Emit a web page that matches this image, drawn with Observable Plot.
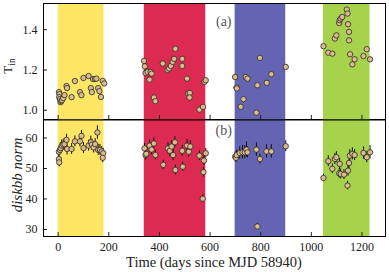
<!DOCTYPE html>
<html><head><meta charset="utf-8">
<script src="https://cdn.jsdelivr.net/npm/d3@7"></script>
<script src="https://cdn.jsdelivr.net/npm/@observablehq/plot@0.6"></script>
<style>
body{margin:0;background:#fff}
#c{position:relative;width:389px;height:272px}
#c svg{position:absolute;left:0;overflow:visible}
</style></head><body><div id="c"></div>
<script>
// shaded epochs
const bandStart=[0,340,699,1048];
const bandEnd=[181,583,899,1232];
const bandColor=["#fde664","#dd2a50","#6464b2","#a6d24c"];

// panel (a): inner disk temperature
const tDays=[3,5,4,7,9,12,15,20,25,33,35,53,66,86,92,100,120,129,133,138,146,151,158,163,169,176,182,
 339,342,345,353,361,365,369,378,384,413,432,438,445,452,458,463,490,490,509,514,520,519,558,572,578,583,
 699,704,706,721,732,741,748,783,787,797,824,842,899,
 1048,1067,1083,1093,1099,1110,1112,1116,1122,1140,1143,1145,1149,1149,1153,1162,1171,1206,1219,1232];
const tVals=[1.09,1.08,1.065,1.055,1.04,1.045,1.05,1.06,1.075,1.12,1.11,1.065,1.145,1.09,1.075,1.16,1.17,1.11,1.09,1.155,1.155,1.157,1.11,1.095,1.066,1.146,1.133,
 1.245,1.218,1.185,1.19,1.152,1.19,1.182,1.063,1.045,1.232,1.20,1.207,1.22,1.24,1.255,1.305,1.255,1.22,1.157,1.083,1.086,1.063,1.003,1.017,1.141,1.149,
 1.165,1.113,1.108,1.017,1.055,1.165,1.157,0.988,1.124,1.26,1.136,1.179,1.215,
 1.318,1.286,1.281,1.356,1.372,1.433,1.447,1.455,1.463,1.50,1.48,1.427,1.389,1.347,1.278,1.228,1.253,1.269,1.303,1.253];

// panel (b): diskbb normalisation with errors
const nDays=[3,4,3,7,10,14,20,25,33,35,53,66,86,92,100,120,129,133,140,146,155,158,165,172,178,176,
 341,345,348,361,369,378,384,415,434,441,448,454,461,463,490,492,509,516,522,558,576,583,574,571,
 699,702,705,717,728,737,744,748,783,787,797,823,842,899,
 1048,1067,1083,1093,1099,1110,1112,1116,1129,1143,1145,1149,1152,1162,1171,1206,1219,1232];
const nVals=[53.1,52.0,55.5,56.1,56.7,57.5,57.8,58.0,59.4,56.4,56.4,58.9,58.9,60.7,56.7,57.5,58.6,57.8,56.9,58.0,61.8,56.1,56.1,55.6,55.0,53.5,
 56.6,54.4,54.8,57.5,56.2,58.2,54.4,51.2,56.6,55.8,57.2,54.4,58.6,49.5,55.8,50.6,57.5,55.5,57.2,54.2,52.6,55.0,48.8,40.1,
 53.9,53.5,54.4,55.1,55.3,55.3,56.2,55.3,56.2,31.0,53.1,55.6,55.6,57.3,
 46.9,52.4,49.9,53.1,53.7,48.4,51.5,48.2,48.0,44.4,49.3,51.8,54.2,54.8,54.4,55.1,53.7,55.3];
const nErr=[1.5,1.5,1.6,1.6,1.8,1.8,1.8,1.8,1.8,2.0,1.8,1.8,1.8,1.8,1.8,1.8,2.0,1.8,1.8,1.8,2.2,1.8,1.8,1.6,1.6,1.6,
 1.6,1.6,1.6,1.8,1.8,1.8,1.6,1.5,1.8,1.8,1.8,1.8,1.8,1.6,1.8,1.5,2.0,1.8,2.0,1.6,1.6,1.6,1.6,1.2,
 1.5,1.5,1.6,2.0,2.2,2.2,2.5,1.8,2.2,1.0,1.6,2.2,2.2,1.8,
 1.2,1.8,1.6,1.8,1.8,1.6,1.8,1.6,1.6,1.4,1.8,1.8,2.0,2.0,1.8,2.0,1.8,2.2];

const xTicks=[0,200,400,600,800,1000,1200];
const tTicks=[1.0,1.2,1.4];
const nTicks=[30,40,50,60];

const bands=bandStart.map((s,i)=>({x1:s,x2:bandEnd[i],c:bandColor[i]}));
const tData=tDays.map((d,i)=>({day:d,v:tVals[i]}));
const nData=nDays.map((d,i)=>({day:d,v:nVals[i],e:nErr[i]}));

const FONT="Liberation Serif";
const dotStyle={r:2.7,fill:"#dcba8c",stroke:"#2a2a2a",strokeWidth:0.8};
const xDomain=[-58,1293];

const topPlot=Plot.plot({
  width:389,height:120,marginTop:3,marginBottom:1,marginLeft:43,marginRight:4,
  style:{fontFamily:FONT,fontSize:"12px",background:"transparent",color:"#222"},
  x:{domain:xDomain},
  y:{domain:[0.954,1.53]},
  marks:[
    Plot.rect(bands,{x1:"x1",x2:"x2",fill:d=>d.c}),
    Plot.dot(tData,{x:"day",y:"v",...dotStyle}),
    Plot.axisX({ticks:xTicks,tickSize:-4,tickFormat:()=>"",label:null}),
    Plot.axisY({ticks:tTicks,tickSize:-4,tickPadding:10,tickFormat:d3.format(".1f"),label:null,fontSize:12}),
    Plot.text(["(a)"],{x:654,y:1.44,text:d=>d,fontSize:14,fill:"#555"}),
    Plot.frame({stroke:"black",strokeWidth:1})
  ]
});
topPlot.style.top="0px";

const botPlot=Plot.plot({
  width:389,height:153,marginTop:0.5,marginBottom:36,marginLeft:43,marginRight:4,
  style:{fontFamily:FONT,fontSize:"12px",background:"transparent",color:"#222"},
  x:{domain:xDomain},
  y:{domain:[27.7,65.9]},
  marks:[
    Plot.rect(bands,{x1:"x1",x2:"x2",fill:d=>d.c}),
    Plot.ruleX(nData,{x:"day",y1:d=>d.v-d.e,y2:d=>d.v+d.e,stroke:"#111",strokeWidth:1}),
    Plot.dot(nData,{x:"day",y:"v",...dotStyle}),
    Plot.axisX({ticks:xTicks,tickSize:-4,tickPadding:10,tickFormat:d3.format("d"),label:null,fontSize:12}),
    Plot.axisY({ticks:nTicks,tickSize:-4,tickPadding:10,label:null,fontSize:12}),
    Plot.text(["(b)"],{x:654,y:62.3,text:d=>d,fontSize:14,fill:"#555"}),
    Plot.frame({stroke:"black",strokeWidth:1})
  ]
});
botPlot.style.top="119px";

const c=document.getElementById("c");
c.appendChild(topPlot);
c.appendChild(botPlot);

// axis titles
const st=d3.select(topPlot);
const tl=st.append("text").attr("transform","translate(11.5,66) rotate(-90)")
  .attr("text-anchor","middle").attr("font-family",FONT).attr("font-size",13).attr("fill","#222");
tl.append("tspan").text("T");
tl.append("tspan").attr("dy",3).attr("font-size",9.5).text("in");

const sb=d3.select(botPlot);
sb.append("text").attr("transform","translate(22,56) rotate(-90)")
  .attr("text-anchor","middle").attr("font-family",FONT).attr("font-style","italic")
  .attr("font-size",15).attr("fill","#222").text("diskbb norm");
sb.append("text").attr("x",214).attr("y",147.5)
  .attr("text-anchor","middle").attr("font-family",FONT)
  .attr("font-size",14.5).attr("fill","#222").text("Time (days since MJD 58940)");
</script></body></html>
